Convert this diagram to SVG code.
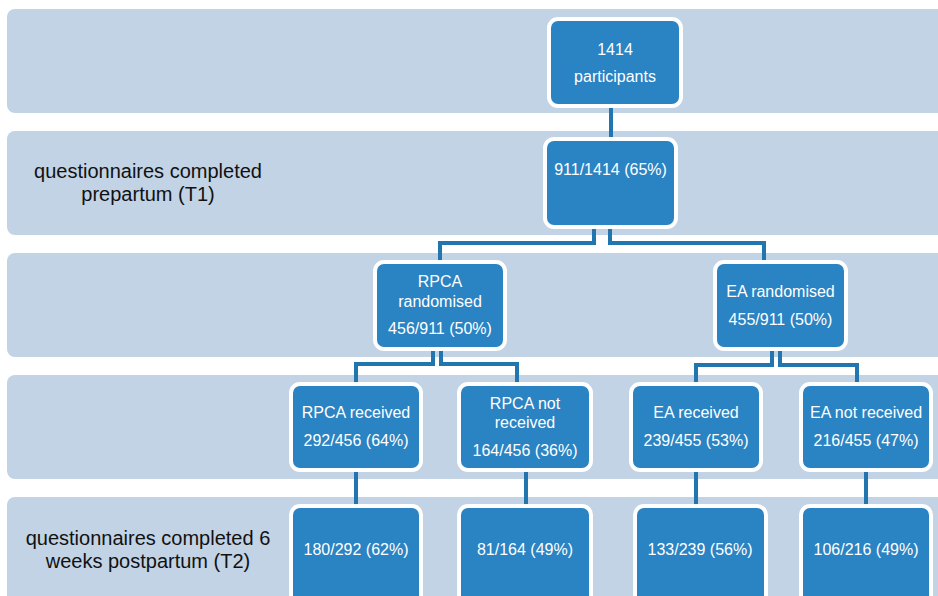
<svg xmlns="http://www.w3.org/2000/svg" width="938" height="596" viewBox="0 0 938 596">
<style>
.band{fill:#C2D3E5}
.node rect{fill:#2A83C2;stroke:#FFFFFF;stroke-width:4}
.node text{fill:#FFFFFF;font-family:"Liberation Sans",Arial,sans-serif;font-size:16px;text-anchor:middle}
.lbl{fill:#111111;font-family:"Liberation Sans",Arial,sans-serif;font-size:20px;text-anchor:middle}
.conn path{fill:none;stroke:#2176B0;stroke-width:4;stroke-linejoin:miter}
</style>
<rect width="938" height="596" fill="#FFFFFF"/>
<g id="bands">
<rect class="band" x="7" y="9" width="945" height="104" rx="8"/>
<rect class="band" x="7" y="131" width="945" height="104" rx="8"/>
<rect class="band" x="7" y="253" width="945" height="104" rx="8"/>
<rect class="band" x="7" y="375" width="945" height="104" rx="8"/>
<rect class="band" x="7" y="497" width="945" height="120" rx="8"/>
</g>
<g id="labels">
<text class="lbl" x="148" y="178">questionnaires completed</text>
<text class="lbl" x="148" y="201">prepartum (T1)</text>
<text class="lbl" x="148" y="545">questionnaires completed 6</text>
<text class="lbl" x="148" y="568">weeks postpartum (T2)</text>
</g>
<g id="connectors" class="conn">
<path d="M611,108 V137"/>
<path d="M594,229 V243 H440 V260"/>
<path d="M610,229 V243 H764 V260"/>
<path d="M433,351 V364 H356 V382"/>
<path d="M441,351 V364 H517 V382"/>
<path d="M772,351 V365 H696 V382"/>
<path d="M780,351 V365 H857 V382"/>
<path d="M356,472 V504"/>
<path d="M526,472 V504"/>
<path d="M696,472 V504"/>
<path d="M866,472 V504"/>
</g>
<g id="n1" class="node"><rect x="549" y="19" width="132" height="87" rx="9"/><text x="615" y="55">1414</text><text x="615" y="82">participants</text></g>
<g id="n2" class="node"><rect x="545" y="139" width="131" height="88" rx="9"/><text x="610.5" y="175">911/1414 (65%)</text></g>
<g id="n3" class="node"><rect x="375" y="262" width="130" height="87" rx="9"/><text x="440" y="287">RPCA</text><text x="440" y="307">randomised</text><text x="440" y="334">456/911 (50%)</text></g>
<g id="n4" class="node"><rect x="715" y="262" width="131" height="87" rx="9"/><text x="780.5" y="297">EA randomised</text><text x="780.5" y="325">455/911 (50%)</text></g>
<g id="n5" class="node"><rect x="291" y="384" width="130" height="86" rx="9"/><text x="356" y="418">RPCA received</text><text x="356" y="446">292/456 (64%)</text></g>
<g id="n6" class="node"><rect x="459" y="384" width="132" height="86" rx="9"/><text x="525" y="409">RPCA not</text><text x="525" y="428">received</text><text x="525" y="456">164/456 (36%)</text></g>
<g id="n7" class="node"><rect x="631" y="384" width="130" height="86" rx="9"/><text x="696" y="418">EA received</text><text x="696" y="446">239/455 (53%)</text></g>
<g id="n8" class="node"><rect x="801" y="384" width="130" height="86" rx="9"/><text x="866" y="418">EA not received</text><text x="866" y="446">216/455 (47%)</text></g>
<g id="n9" class="node"><rect x="291" y="506" width="130" height="110" rx="9"/><text x="356" y="555">180/292 (62%)</text></g>
<g id="n10" class="node"><rect x="459" y="506" width="132" height="110" rx="9"/><text x="525" y="555">81/164 (49%)</text></g>
<g id="n11" class="node"><rect x="635" y="506" width="131" height="110" rx="9"/><text x="700" y="555">133/239 (56%)</text></g>
<g id="n12" class="node"><rect x="801" y="506" width="130" height="110" rx="9"/><text x="866" y="555">106/216 (49%)</text></g>
</svg>
